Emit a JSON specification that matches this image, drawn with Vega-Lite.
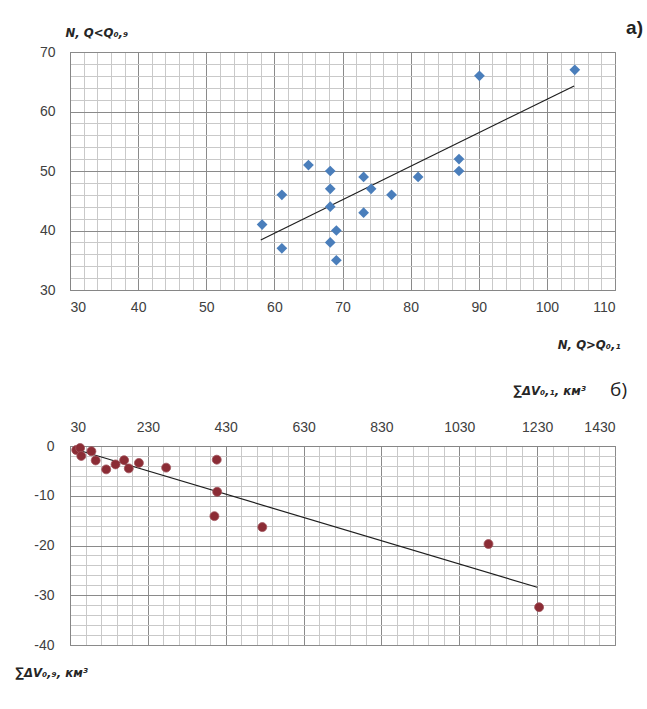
{
  "$schema": "https://vega.github.io/schema/vega-lite/v6.json",
  "padding": {"left": 14, "top": 18, "right": 0, "bottom": 0},
  "background": "white",
  "spacing": 156,
  "bounds": "flush",
  "config": {
    "view": {"stroke": "#8c8c8c", "strokeWidth": 1},
    "axis": {
      "labelFont": "Liberation Sans, Arial, sans-serif",
      "labelFontSize": 14,
      "labelColor": "#404040",
      "domainColor": "#868686",
      "ticks": false,
      "labelOverlap": false,
      "labelBound": false,
      "titleFont": "DejaVu Sans Condensed, DejaVu Sans, sans-serif",
      "titleFontSize": 13,
      "titleFontWeight": "bold",
      "titleFontStyle": "italic",
      "titleColor": "#262626",
      "titleAngle": 0,
      "titleAlign": "left",
      "titleBaseline": "alphabetic",
      "grid": true
    }
  },
  "vconcat": [
    {
      "width": 545,
      "height": 238,
      "title": {
        "text": "a)",
        "anchor": "end",
        "frame": "group",
        "orient": "top",
        "align": "right",
        "baseline": "alphabetic",
        "font": "Liberation Sans, Arial, sans-serif",
        "fontSize": 19,
        "fontWeight": "bold",
        "color": "#222222",
        "offset": 0,
        "dx": 28,
        "dy": 27
      },
      "encoding": {
        "x": {
          "field": "x",
          "type": "quantitative",
          "scale": {"domain": [30, 110], "nice": false, "zero": false},
          "axis": {
            "values": [30,32,34,36,38,40,42,44,46,48,50,52,54,56,58,60,62,64,66,68,70,72,74,76,78,80,82,84,86,88,90,92,94,96,98,100,102,104,106,108,110],
            "labelExpr": "datum.value % 10 === 0 ? '' + datum.value : ''",
            "gridColor": {"condition": {"test": "datum.value % 10 === 0", "value": "#8a8a8a"}, "value": "#c9c9c9"},
            "labelPadding": 10,
            "title": "N, Q>Q₀,₁",
            "titleX": 550,
            "titleY": 58,
            "titleAlign": "right"
          }
        },
        "y": {
          "field": "y",
          "type": "quantitative",
          "scale": {"domain": [30, 70], "nice": false, "zero": false},
          "axis": {
            "values": [30,32,34,36,38,40,42,44,46,48,50,52,54,56,58,60,62,64,66,68,70],
            "labelExpr": "datum.value % 10 === 0 ? '' + datum.value : ''",
            "gridColor": {"condition": {"test": "datum.value % 10 === 0", "value": "#8a8a8a"}, "value": "#c9c9c9"},
            "labelPadding": 15,
            "title": "N, Q<Q₀,₉",
            "titleX": -5,
            "titleY": -16
          }
        }
      },
      "layer": [
        {
          "data": {"values": [
            {"x": 58, "y": 38.4},
            {"x": 104, "y": 64.3}
          ]},
          "mark": {"type": "line", "color": "#1e1e1e", "strokeWidth": 1.2}
        },
        {
          "data": {"values": [
            {"x": 58.2, "y": 41},
            {"x": 61.1, "y": 46},
            {"x": 61.1, "y": 37},
            {"x": 65, "y": 51},
            {"x": 68.2, "y": 50},
            {"x": 68.2, "y": 47},
            {"x": 68.2, "y": 44},
            {"x": 68.2, "y": 38},
            {"x": 69.1, "y": 40},
            {"x": 69.1, "y": 35},
            {"x": 73.1, "y": 49},
            {"x": 73.1, "y": 43},
            {"x": 74.2, "y": 47},
            {"x": 77.2, "y": 46},
            {"x": 81.1, "y": 49},
            {"x": 87.1, "y": 52},
            {"x": 87.1, "y": 50},
            {"x": 90.1, "y": 66},
            {"x": 104.1, "y": 67}
          ]},
          "mark": {"type": "point", "shape": "diamond", "filled": true, "size": 115, "color": "#4A7EBB", "opacity": 1}
        }
      ]
    },
    {
      "width": 545,
      "height": 199,
      "title": {
        "text": "б)",
        "anchor": "end",
        "frame": "group",
        "orient": "top",
        "align": "right",
        "baseline": "alphabetic",
        "font": "Open Sans, Liberation Sans, sans-serif",
        "fontSize": 19,
        "fontWeight": "normal",
        "color": "#222222",
        "offset": 0,
        "dx": 12,
        "dy": 31
      },
      "encoding": {
        "x": {
          "field": "x",
          "type": "quantitative",
          "scale": {"domain": [30, 1430], "nice": false, "zero": false},
          "axis": {
            "orient": "top",
            "values": [30,70,110,150,190,230,270,310,350,390,430,470,510,550,590,630,670,710,750,790,830,870,910,950,990,1030,1070,1110,1150,1190,1230,1270,1310,1350,1390,1430],
            "labelExpr": "(datum.value - 30) % 200 === 0 ? '' + datum.value : ''",
            "gridColor": {"condition": {"test": "(datum.value - 30) % 200 === 0", "value": "#8a8a8a"}, "value": "#c9c9c9"},
            "labelPadding": 12,
            "title": "∑ΔV₀,₁, км³",
            "titleX": 443,
            "titleY": -52
          }
        },
        "y": {
          "field": "y",
          "type": "quantitative",
          "scale": {"domain": [-40, 0], "nice": false, "zero": false},
          "axis": {
            "values": [-40,-38,-36,-34,-32,-30,-28,-26,-24,-22,-20,-18,-16,-14,-12,-10,-8,-6,-4,-2,0],
            "labelExpr": "datum.value % 10 === 0 ? '' + datum.value : ''",
            "gridColor": {"condition": {"test": "datum.value % 10 === 0", "value": "#8a8a8a"}, "value": "#c9c9c9"},
            "labelPadding": 16,
            "title": "∑ΔV₀,₉, км³",
            "titleX": -55,
            "titleY": 230
          }
        }
      },
      "layer": [
        {
          "data": {"values": [
            {"x": 46, "y": -0.7},
            {"x": 1230, "y": -28.4}
          ]},
          "mark": {"type": "line", "color": "#1e1e1e", "strokeWidth": 1.2}
        },
        {
          "data": {"values": [
            {"x": 46, "y": -0.8},
            {"x": 56, "y": -0.4},
            {"x": 59, "y": -2.0},
            {"x": 85, "y": -1.05},
            {"x": 96, "y": -2.9},
            {"x": 123, "y": -4.7},
            {"x": 147, "y": -3.7},
            {"x": 169, "y": -2.85},
            {"x": 181, "y": -4.5},
            {"x": 207, "y": -3.4},
            {"x": 277, "y": -4.35},
            {"x": 407, "y": -2.75},
            {"x": 408, "y": -9.2},
            {"x": 401, "y": -14.1},
            {"x": 524, "y": -16.3},
            {"x": 1105, "y": -19.7},
            {"x": 1235, "y": -32.4}
          ]},
          "mark": {"type": "circle", "size": 80, "color": "#8B2C35", "opacity": 1, "stroke": "#a0525a", "strokeWidth": 0.8}
        }
      ]
    }
  ]
}
